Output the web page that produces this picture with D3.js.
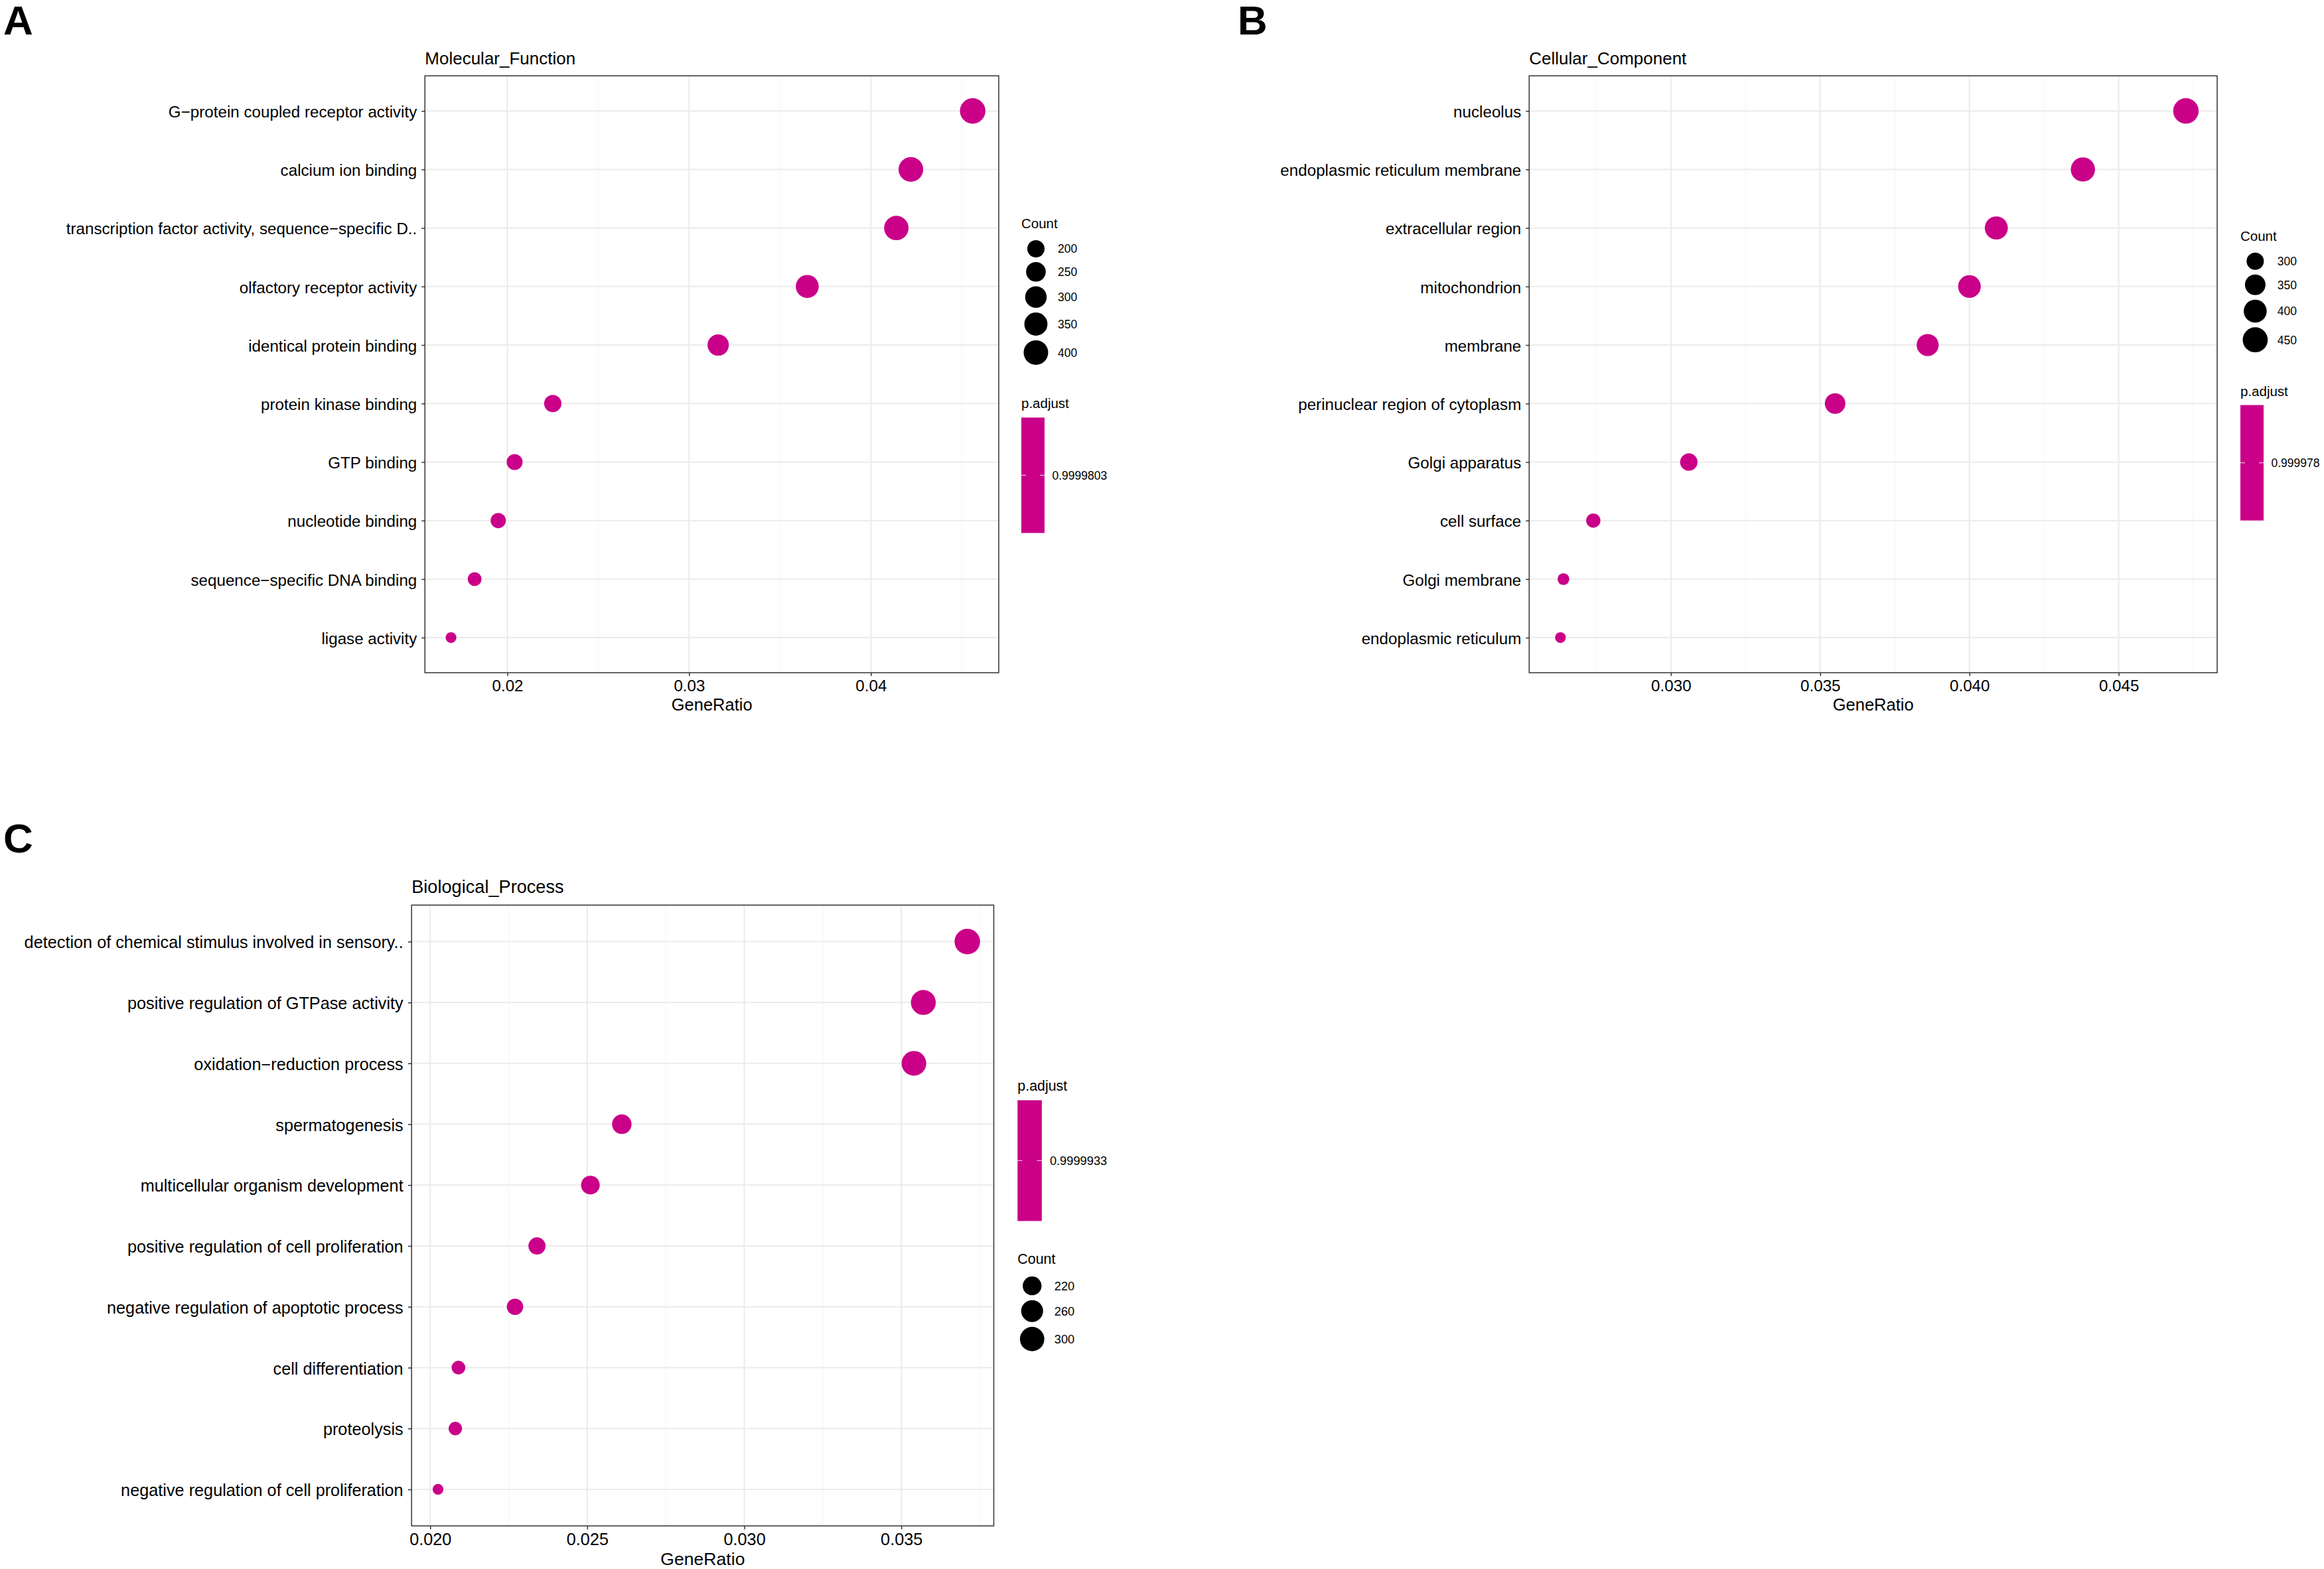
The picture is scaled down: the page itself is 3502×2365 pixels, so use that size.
<!DOCTYPE html>
<html>
<head>
<meta charset="utf-8">
<script src="https://cdn.jsdelivr.net/npm/d3@7"></script>
<style>
  body { margin: 0; background: #fff; }
  svg { display: block; font-family: "Liberation Sans", Arial, Helvetica, sans-serif; }
</style>
</head>
<body>
<div id="fig"></div>
<script>
// ---- data ----
const mf_terms = ["G\u2212protein coupled receptor activity", "calcium ion binding",
    "transcription factor activity, sequence\u2212specific D..", "olfactory receptor activity",
    "identical protein binding", "protein kinase binding", "GTP binding", "nucleotide binding",
    "sequence\u2212specific DNA binding", "ligase activity"];
const mf_ratio = [0.0456, 0.0422, 0.0414, 0.0365, 0.0316, 0.0225, 0.0204, 0.0195, 0.0182, 0.0169];
const mf_count = [437, 403, 395, 344, 294, 201, 179, 170, 156, 143];
const mf_ticks = ["0.02", "0.03", "0.04"];
const mf_size_breaks = [200, 250, 300, 350, 400];
const mf_padj = "0.9999803";

const cc_terms = ["nucleolus", "endoplasmic reticulum membrane", "extracellular region", "mitochondrion",
    "membrane", "perinuclear region of cytoplasm", "Golgi apparatus", "cell surface",
    "Golgi membrane", "endoplasmic reticulum"];
const cc_ratio = [0.04725, 0.0438, 0.0409, 0.0400, 0.0386, 0.0355, 0.0306, 0.0274, 0.0264, 0.0263];
const cc_count = [463, 429, 401, 393, 379, 350, 302, 272, 262, 261];
const cc_ticks = ["0.030", "0.035", "0.040", "0.045"];
const cc_size_breaks = [300, 350, 400, 450];
const cc_padj = "0.999978";

const bp_terms = ["detection of chemical stimulus involved in sensory..", "positive regulation of GTPase activity",
    "oxidation\u2212reduction process", "spermatogenesis", "multicellular organism development",
    "positive regulation of cell proliferation", "negative regulation of apoptotic process",
    "cell differentiation", "proteolysis", "negative regulation of cell proliferation"];
const bp_ratio = [0.0371, 0.0357, 0.0354, 0.0261, 0.0251, 0.0234, 0.0227, 0.0209, 0.0208, 0.02025];
const bp_count = [322, 310, 307, 228, 219, 204, 198, 183, 182, 177];
const bp_ticks = ["0.020", "0.025", "0.030", "0.035"];
const bp_size_breaks = [220, 260, 300];
const bp_padj = "0.9999933";

// ---- look ----
const W = 3502, H = 2365;
const dotColor = "#CA0089";
const colors = { border: "#333333", grid: "#ebebeb", minor: "#f3f3f3", text: "#000000" };

const svg = d3.select("#fig").append("svg")
    .attr("width", W).attr("height", H)
    .attr("viewBox", `0 0 ${W} ${H}`);
svg.append("rect").attr("width", W).attr("height", H).attr("fill", "#fff");

// ggplot-like point size: size range 3..8, sqrt mapped, then size -> pixel diameter
function diamOf(size) {
    return 4.438 * size + 2.93;
}

function drawPanel(cfg, terms, ratio, count, ticks, sizeBreaks, padj, title) {
    const g = svg.append("g");
    const k = cfg.k || 1;   // panel C was exported a little larger
    const [lo, hi] = d3.extent(ratio);
    const pad = 0.05 * (hi - lo);

    const x = d3.scaleLinear()
        .domain([lo - pad, hi + pad])
        .range([cfg.x0, cfg.x1]);

    const y = d3.scalePoint()
        .domain(terms)
        .range([cfg.y0, cfg.y1])
        .padding(0.6);

    const [cmin, cmax] = d3.extent(count);
    const size = d3.scaleSqrt().domain([0, cmax - cmin]).range([3, 8]);
    const r = c => diamOf(size(c - cmin)) / 2;

    const tickNums = ticks.map(t => +t);
    const step = tickNums[1] - tickNums[0];
    const minor = [];
    for (let v = tickNums[0] - step / 2; v <= x.domain()[1]; v += step) {
        if (v >= x.domain()[0]) minor.push(v);
    }

    // grid
    g.selectAll(".minor").data(minor).enter().append("line")
        .attr("x1", d => x(d)).attr("x2", d => x(d))
        .attr("y1", cfg.y0).attr("y2", cfg.y1)
        .attr("stroke", colors.minor).attr("stroke-width", 1);
    g.selectAll(".vmajor").data(tickNums).enter().append("line")
        .attr("x1", d => x(d)).attr("x2", d => x(d))
        .attr("y1", cfg.y0).attr("y2", cfg.y1)
        .attr("stroke", colors.grid).attr("stroke-width", 2);
    g.selectAll(".hmajor").data(terms).enter().append("line")
        .attr("x1", cfg.x0).attr("x2", cfg.x1)
        .attr("y1", d => y(d)).attr("y2", d => y(d))
        .attr("stroke", colors.grid).attr("stroke-width", 2);

    // points
    g.selectAll(".dot").data(terms).enter().append("circle")
        .attr("cx", (d, i) => x(ratio[i]))
        .attr("cy", d => y(d))
        .attr("r", (d, i) => r(count[i]))
        .attr("fill", dotColor);

    // border
    g.append("rect")
        .attr("x", cfg.x0).attr("y", cfg.y0)
        .attr("width", cfg.x1 - cfg.x0).attr("height", cfg.y1 - cfg.y0)
        .attr("fill", "none").attr("stroke", colors.border).attr("stroke-width", 1.5);

    // axes
    const xa = g.append("g")
        .attr("transform", `translate(0,${cfg.y1})`)
        .call(d3.axisBottom(x).tickValues(tickNums).tickFormat((d, i) => ticks[i])
            .tickSize(5 * k).tickPadding(6 * k));
    const ya = g.append("g")
        .attr("transform", `translate(${cfg.x0},0)`)
        .call(d3.axisLeft(y).tickSize(5 * k).tickPadding(7 * k));
    [xa, ya].forEach(a => {
        a.select(".domain").remove();
        a.selectAll(".tick line").attr("stroke", colors.border).attr("stroke-width", 1.5);
        a.selectAll(".tick text").attr("fill", colors.text)
            .style("font-size", (24.2 * k) + "px").style("font-family", "Liberation Sans, Arial, sans-serif");
    });
    ya.selectAll(".tick text").attr("dy", "0.38em");

    g.append("text")
        .attr("x", cfg.x0).attr("y", cfg.y0 - 17.3 * k)
        .style("font-size", (26 * k) + "px")
        .text(title);

    g.append("text")
        .attr("x", (cfg.x0 + cfg.x1) / 2).attr("y", cfg.y1 + 56.5 * k)
        .attr("text-anchor", "middle")
        .style("font-size", (25.5 * k) + "px")
        .text("GeneRatio");

    // legends
    const keyH = sizeBreaks.map(b => 2 * r(b) + 7 * k);
    const keyW = d3.max(keyH);
    const sizeBlock = (19 + 14.5) * k + d3.sum(keyH);
    const barBlock = (19 + 14) * k + cfg.barH;
    const gap = 43 * k;
    const total = sizeBlock + barBlock + gap;
    let top = (cfg.y0 + cfg.y1) / 2 - total / 2;
    const lx = cfg.legendX;
    const barW = 35 * k;

    function sizeLegend(t) {
        g.append("text").attr("x", lx).attr("y", t + 19 * k)
            .style("font-size", (20.5 * k) + "px").text("Count");
        let ky = t + (19 + 14.5) * k;
        sizeBreaks.forEach((b, i) => {
            const cy = ky + keyH[i] / 2;
            g.append("circle").attr("cx", lx + keyW / 2).attr("cy", cy)
                .attr("r", r(b)).attr("fill", "#000");
            g.append("text").attr("x", lx + keyW + 11 * k).attr("y", cy)
                .attr("dy", "0.36em").style("font-size", (17.5 * k) + "px").text(b);
            ky += keyH[i];
        });
    }

    function barLegend(t) {
        g.append("text").attr("x", lx).attr("y", t + 19 * k)
            .style("font-size", (20.5 * k) + "px").text("p.adjust");
        const by = t + (19 + 14) * k;
        g.append("rect").attr("x", lx).attr("y", by)
            .attr("width", barW).attr("height", cfg.barH).attr("fill", dotColor);
        const cy = by + cfg.barH / 2;
        [[lx, lx + barW / 5], [lx + barW * 4 / 5, lx + barW]].forEach(p => {
            g.append("line").attr("x1", p[0]).attr("x2", p[1]).attr("y1", cy).attr("y2", cy)
                .attr("stroke", "#fff").attr("stroke-opacity", 0.75).attr("stroke-width", 1.2);
        });
        g.append("text").attr("x", lx + barW + 11.5 * k).attr("y", cy)
            .attr("dy", "0.36em").style("font-size", (17.5 * k) + "px").text(padj);
    }

    if (cfg.padjFirst) {
        barLegend(top);
        sizeLegend(top + barBlock + gap);
    } else {
        sizeLegend(top);
        barLegend(top + sizeBlock + gap);
    }
}

drawPanel({ x0: 640.3, x1: 1505, y0: 114.3, y1: 1014, legendX: 1539, barH: 174, padjFirst: false },
    mf_terms, mf_ratio, mf_count, mf_ticks, mf_size_breaks, mf_padj, "Molecular_Function");
drawPanel({ x0: 2304.3, x1: 3341, y0: 114.3, y1: 1014, legendX: 3376, barH: 174, padjFirst: false },
    cc_terms, cc_ratio, cc_count, cc_ticks, cc_size_breaks, cc_padj, "Cellular_Component");
drawPanel({ x0: 620.2, x1: 1497.5, y0: 1364.3, y1: 2300, legendX: 1533.3, barH: 182, padjFirst: true, k: 1.045 },
    bp_terms, bp_ratio, bp_count, bp_ticks, bp_size_breaks, bp_padj, "Biological_Process");

// panel letters
[["A", 5, 52], ["B", 1865, 52], ["C", 5, 1285]].forEach(l => {
    svg.append("text").attr("x", l[1]).attr("y", l[2])
        .style("font-size", "62px").style("font-weight", "bold")
        .text(l[0]);
});
</script>
</body>
</html>
